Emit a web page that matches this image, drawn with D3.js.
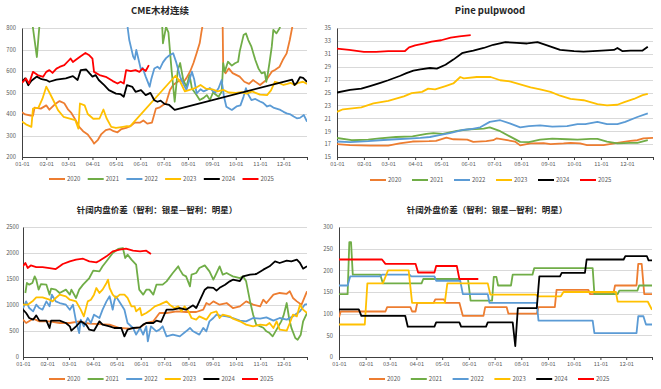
<!DOCTYPE html>
<html><head><meta charset="utf-8">
<script src="https://cdn.jsdelivr.net/npm/d3@7"></script>
<style>body{margin:0;background:#fff}svg{display:block}</style>
</head><body><svg id="c" width="661" height="389"></svg>
<script>
const years = ["2020","2021","2022","2023","2024","2025"];
const colors = ["#ED7D31","#70AD47","#5B9BD5","#FFC000","#000000","#FF0000"];
const monthTicks = ["01-01","02-01","03-01","04-01","05-01","06-01","07-01","08-01","09-01","10-01","11-01","12-01"];

// ---- CME lumber continuous ----
const cme2020 = [["01-01",408],["01-05",398],["01-12",393],["01-15",392],["01-17",430],["01-25",425],["02-01",440],["02-05",420],["02-12",445],["02-18",460],["02-24",450],["03-01",420],["03-05",405],["03-10",375],["03-15",340],["03-20",320],["03-26",305],["04-01",275],["04-03",262],["04-08",280],["04-12",305],["04-18",325],["04-23",330],["04-28",320],["05-03",315],["05-08",330],["05-14",335],["05-20",345],["05-25",360],["06-01",360],["06-05",370],["06-10",355],["06-16",360],["06-21",425],["06-26",431],["07-04",451],["07-09",512],["07-13",535],["07-17",545],["07-22",558],["07-26",548],["07-30",567],["08-04",600],["08-08",637],["08-12",683],["08-16",730],["08-18",777],["08-20",820],["08-25",900],["09-14",900],["09-15",605],["09-18",589],["09-22",612],["09-27",590],["10-06",574],["10-12",550],["10-18",540],["10-23",558],["11-01",535],["11-09",558],["11-16",597],["11-20",605],["11-26",620],["11-30",651],["12-05",682],["12-09",744],["12-13",820],["12-18",900],["12-31",900]];
const cme2021 = [["01-01",900],["01-12",900],["01-15",800],["01-20",665],["01-23",800],["01-26",900],["06-28",900],["06-30",729],["07-04",805],["07-07",780],["07-11",605],["07-15",457],["07-19",605],["07-22",637],["07-26",558],["07-30",527],["08-03",581],["08-06",519],["08-12",488],["08-16",465],["08-21",475],["08-25",488],["08-29",465],["09-02",500],["09-09",480],["09-13",504],["09-15",636],["09-17",597],["09-21",643],["09-26",625],["09-30",636],["10-04",643],["10-06",690],["10-11",767],["10-14",775],["10-17",744],["10-21",713],["10-26",651],["10-30",612],["11-03",589],["11-07",595],["11-09",550],["11-11",589],["11-13",636],["11-16",713],["11-18",791],["11-22",775],["11-26",799],["11-30",850],["12-31",950]];
const cme2022 = [["01-01",1000],["05-14",1000],["05-16",800],["05-18",744],["05-23",667],["05-25",654],["05-27",698],["05-31",636],["06-02",605],["06-04",615],["06-08",574],["06-13",527],["06-15",560],["06-19",612],["06-23",620],["06-26",610],["06-30",640],["07-04",660],["07-08",672],["07-13",683],["07-17",640],["07-22",573],["07-26",540],["07-30",512],["08-03",560],["08-06",597],["08-09",560],["08-12",496],["08-17",515],["08-21",505],["08-25",512],["08-29",521],["09-02",505],["09-05",500],["09-09",520],["09-13",558],["09-16",480],["09-19",434],["09-26",419],["10-02",435],["10-07",440],["10-11",481],["10-14",520],["10-17",490],["10-21",465],["10-26",470],["11-01",458],["11-05",452],["11-10",435],["11-14",440],["11-18",430],["11-22",425],["11-27",419],["12-01",410],["12-05",403],["12-10",398],["12-14",388],["12-18",380],["12-22",382],["12-27",395],["12-31",364]];
const cme2023 = [["01-01",365],["01-06",352],["01-13",340],["01-15",425],["01-22",430],["01-27",470],["02-01",527],["02-05",500],["02-10",464],["02-16",418],["02-23",387],["03-03",379],["03-10",372],["03-14",332],["03-16",449],["03-22",440],["03-26",400],["04-02",378],["04-10",379],["04-15",421],["04-19",380],["04-25",340],["05-01",335],["05-10",340],["05-15",343],["05-19",342],["07-16",578],["07-22",550],["07-28",505],["08-03",512],["08-10",520],["08-17",535],["08-24",518],["09-01",515],["09-08",505],["09-15",512],["09-22",500],["10-01",498],["10-08",502],["10-15",495],["10-22",505],["11-01",490],["11-10",488],["11-15",510],["11-20",550],["11-25",545],["12-01",535],["12-06",540],["12-10",545],["12-15",535],["12-20",545],["12-26",550],["12-31",540]];
const cme2024 = [["01-01",550],["01-05",566],["01-09",534],["01-13",555],["01-20",574],["01-26",562],["02-01",558],["02-05",550],["02-14",560],["02-26",566],["03-07",576],["03-13",558],["03-17",604],["03-24",607],["03-28",590],["04-01",574],["04-05",581],["04-09",558],["04-16",534],["04-22",511],["05-01",495],["05-07",492],["05-11",480],["05-15",534],["05-22",526],["05-26",503],["06-02",511],["06-08",488],["06-14",498],["06-19",464],["06-23",457],["06-27",462],["07-02",447],["07-08",442],["07-15",419],["12-12",560],["12-15",535],["12-18",545],["12-22",571],["12-26",568],["12-31",550]];
const cme2025 = [["01-01",545],["01-06",565],["01-10",542],["01-15",596],["01-21",581],["01-28",573],["02-01",596],["02-05",604],["02-09",591],["02-14",611],["02-18",619],["02-24",627],["03-02",650],["03-04",658],["03-07",642],["03-13",658],["03-17",669],["03-23",684],["03-28",673],["04-01",658],["04-03",596],["04-10",581],["04-18",573],["04-27",553],["05-03",542],["05-07",550],["05-11",542],["05-14",604],["05-20",599],["05-26",604],["05-31",596],["06-04",611],["06-08",600],["06-12",627]];

// ---- Pine pulpwood ----
const pulp2020 = [["01-01",17.0],["01-16",16.85],["02-08",16.75],["03-01",16.75],["03-14",17.1],["03-29",17.4],["04-17",17.45],["04-25",17.5],["05-07",18.0],["05-15",17.75],["05-31",17.7],["06-07",17.35],["06-22",17.45],["06-30",17.6],["07-04",17.9],["07-16",17.6],["07-25",17.4],["07-31",16.8],["08-12",17.1],["08-27",17.15],["09-04",17.0],["09-19",17.1],["09-27",17.2],["10-08",17.1],["10-16",16.85],["11-04",16.85],["11-20",17.2],["12-05",17.5],["12-13",17.6],["12-20",17.9],["12-31",17.95]];
const pulp2021 = [["01-01",17.95],["01-18",17.6],["02-06",17.7],["02-19",17.9],["03-10",18.1],["03-29",18.2],["04-14",18.6],["04-22",18.7],["05-03",18.6],["05-19",19.05],["06-03",19.3],["06-19",19.4],["06-26",19.6],["07-08",19.0],["07-19",18.2],["07-31",17.35],["08-10",17.3],["08-23",17.7],["09-06",17.85],["09-23",17.75],["10-05",17.7],["10-20",17.8],["10-28",17.8],["11-08",17.4],["11-20",17.1],["12-05",17.2],["12-13",17.2],["12-25",17.6]];
const pulp2022 = [["01-01",17.4],["01-16",17.3],["02-06",17.45],["02-19",17.6],["03-10",17.75],["03-25",17.85],["04-07",17.95],["04-18",18.1],["04-29",18.4],["05-11",18.7],["05-26",19.2],["06-03",19.3],["06-15",19.6],["06-26",20.45],["07-08",20.7],["07-19",20.2],["07-31",19.6],["08-10",19.8],["08-23",19.9],["09-06",19.7],["09-23",19.8],["10-05",20.1],["10-14",20.1],["10-28",20.45],["11-08",20.1],["11-20",20.1],["11-29",20.45],["12-13",21.2],["12-25",21.75]];
const pulp2023 = [["01-01",22.0],["01-08",22.4],["01-29",22.7],["02-12",23.3],["03-01",23.7],["03-19",24.4],["03-28",24.9],["04-09",25.1],["04-16",25.6],["04-24",25.5],["05-06",26.0],["05-15",26.4],["05-23",27.4],["05-27",27.2],["06-11",27.4],["06-27",27.4],["07-08",26.9],["07-20",26.7],["08-04",26.1],["08-12",25.8],["08-23",25.5],["09-04",25.1],["09-15",24.5],["09-27",24.0],["10-05",23.9],["10-12",23.8],["10-28",23.2],["11-08",23.0],["11-20",23.1],["11-28",23.5],["12-09",24.0],["12-19",24.6],["12-25",24.8]];
const pulp2024 = [["01-01",25.0],["01-16",25.4],["01-29",25.6],["02-08",26.0],["02-20",26.5],["03-01",26.9],["03-15",27.6],["03-22",28.0],["03-30",28.4],["04-07",28.6],["04-18",28.8],["04-26",28.7],["05-06",29.3],["05-15",30.1],["05-25",31.1],["05-31",31.3],["06-07",31.5],["06-19",31.9],["06-30",32.4],["07-14",32.8],["07-27",32.7],["08-08",32.6],["08-20",32.8],["08-31",32.3],["09-15",31.6],["10-01",31.4],["10-12",31.35],["10-28",31.45],["11-16",31.6],["11-20",31.9],["11-26",31.4],["12-05",31.5],["12-19",31.5],["12-25",32.1]];
const pulp2025 = [["01-01",31.8],["01-15",31.6],["02-01",31.3],["02-15",31.3],["03-01",31.4],["03-20",31.4],["03-25",32.0],["04-01",32.3],["04-12",32.6],["04-20",32.9],["05-01",33.1],["05-12",33.5],["05-22",33.7],["06-04",33.9]];

// ---- Domestic spread ----
const inner2020 = [["01-01",718],["01-05",654],["01-14",737],["01-22",686],["02-04",686],["02-17",654],["03-02",654],["03-14",686],["03-27",641],["04-09",634],["04-22",622],["05-05",558],["05-18",545],["05-31",570],["06-08",654],["06-17",686],["06-25",846],["07-04",846],["07-17",878],["07-29",865],["08-11",865],["08-20",910],["08-24",1038],["08-28",1006],["09-02",1070],["09-10",1006],["09-19",1038],["09-27",942],["10-06",974],["10-14",1070],["10-23",1006],["11-01",974],["11-05",1102],["11-09",1038],["11-18",1199],["11-26",1231],["12-05",1215],["12-09",1263],["12-13",1135],["12-18",1070],["12-24",1006],["12-31",1263]];
const inner2021 = [["01-04",1231],["01-06",1423],["01-09",1391],["01-13",1423],["01-16",1551],["01-18",1487],["01-21",1295],["01-24",1400],["01-31",1391],["02-04",1199],["02-06",1315],["02-12",1295],["02-17",1231],["02-25",1295],["03-02",1199],["03-04",1295],["03-10",1135],["03-14",1295],["03-19",1391],["03-27",1519],["04-01",1660],["04-09",1647],["04-13",1744],["04-18",1840],["04-26",2000],["05-03",2077],["05-09",2096],["05-12",1904],["05-15",1968],["05-20",1872],["05-26",1776],["05-30",1295],["06-04",1199],["06-08",1295],["06-12",1295],["06-17",1199],["06-21",1391],["06-29",1391],["07-04",1455],["07-12",1615],["07-19",1744],["07-21",1680],["07-25",1583],["07-29",1551],["08-03",1359],["08-05",1583],["08-11",1615],["08-15",1711],["08-22",1763],["08-28",1647],["09-02",1487],["09-06",1615],["09-10",1744],["09-14",1583],["09-19",1615],["09-23",1583],["09-27",1551],["10-06",1519],["10-10",1551],["10-14",1455],["10-19",1070],["10-23",813],["10-27",621],["11-01",590],["11-05",563],["11-09",494],["11-13",461],["11-17",396],["11-22",526],["11-28",685],["12-01",800],["12-05",1038],["12-08",750],["12-11",560],["12-16",365],["12-19",333],["12-23",429],["12-26",685],["12-31",846]];
const inner2022 = [["01-01",942],["01-05",1070],["01-09",942],["01-14",878],["01-18",1006],["01-22",942],["01-26",910],["01-31",1070],["02-04",974],["02-07",1199],["02-12",1070],["02-17",1038],["02-25",1006],["03-02",910],["03-06",1006],["03-10",686],["03-14",461],["03-16",718],["03-20",590],["03-25",750],["03-29",654],["04-02",814],["04-09",750],["04-13",910],["04-18",1070],["04-22",1167],["04-26",910],["04-28",1070],["04-30",1167],["05-07",1006],["05-11",910],["05-15",654],["05-22",558],["05-26",430],["05-31",558],["06-04",430],["06-08",590],["06-10",301],["06-14",590],["06-21",494],["06-25",526],["06-29",590],["07-04",397],["07-12",430],["07-21",397],["07-29",494],["08-03",558],["08-07",494],["08-15",430],["08-20",558],["08-24",494],["08-28",686],["09-02",750],["09-06",814],["09-10",801],["09-19",782],["09-27",750],["10-06",699],["10-14",686],["10-23",750],["11-01",737],["11-09",763],["11-18",699],["11-26",750],["12-05",718],["12-13",782],["12-22",878],["12-28",1006],["12-31",1019]];
const inner2023 = [["01-01",1006],["01-07",1006],["01-14",1083],["01-18",1147],["01-26",1147],["02-04",1102],["02-08",1070],["02-12",1135],["02-17",1199],["02-25",1167],["03-02",1102],["03-10",1070],["03-16",910],["03-20",782],["03-25",1070],["03-29",1102],["04-02",1199],["04-05",1327],["04-09",1231],["04-13",1295],["04-18",1423],["04-20",1487],["04-22",1327],["04-26",1199],["04-30",1135],["05-05",1199],["05-11",1199],["05-15",1135],["05-20",974],["05-24",974],["05-26",878],["05-31",942],["06-02",801],["06-08",846],["06-14",910],["06-19",974],["06-25",1006],["07-04",1070],["07-08",1006],["07-14",942],["07-19",974],["07-23",878],["07-27",974],["08-01",878],["08-05",750],["08-11",718],["08-15",782],["08-24",718],["08-30",846],["09-06",878],["09-10",750],["09-14",814],["09-23",782],["09-27",737],["10-06",686],["10-14",622],["10-23",590],["11-01",622],["11-09",609],["11-13",654],["11-18",558],["11-22",686],["11-26",526],["12-05",506],["12-09",654],["12-13",814],["12-18",782],["12-22",1006],["12-26",910],["12-31",846]];
const inner2024 = [["01-01",910],["01-05",846],["01-09",750],["01-14",718],["01-18",800],["01-22",700],["01-31",700],["02-04",558],["02-06",700],["02-17",700],["02-25",654],["03-02",590],["03-04",506],["03-10",590],["03-16",686],["03-23",622],["03-27",525],["04-02",506],["04-09",686],["04-13",622],["04-22",590],["04-28",558],["05-07",558],["05-11",397],["05-15",526],["05-22",558],["05-31",570],["06-04",622],["06-08",654],["06-17",654],["06-21",699],["06-27",675],["07-02",846],["07-04",910],["07-12",910],["07-21",942],["07-29",910],["08-07",994],["08-11",942],["08-15",1070],["08-22",1295],["08-26",1340],["09-02",1330],["09-06",1276],["09-10",1330],["09-17",1391],["09-23",1455],["09-27",1487],["10-06",1460],["10-10",1551],["10-19",1583],["10-27",1596],["11-05",1680],["11-13",1744],["11-20",1840],["11-26",1808],["12-05",1853],["12-11",1840],["12-18",1872],["12-22",1808],["12-26",1699],["12-31",1744]];
const inner2025 = [["01-01",1744],["01-04",1808],["01-07",1712],["01-11",1760],["01-18",1728],["01-26",1728],["02-04",1711],["02-12",1692],["02-17",1744],["02-21",1788],["03-02",1840],["03-10",1872],["03-19",1890],["03-27",1840],["04-05",1820],["04-09",1850],["04-18",1936],["04-26",2032],["05-05",2064],["05-13",2083],["05-22",2045],["05-31",2032],["06-08",2045],["06-14",1980]];

// ---- Overseas spread ----
const outer2020 = [["01-01",92],["01-03",105],["02-24",105],["02-26",115],["03-25",115],["03-27",105],["03-31",105],["04-02",125],["04-21",125],["04-23",133],["05-03",133],["05-05",125],["05-21",125],["05-25",95],["06-18",95],["06-20",115],["07-15",115],["07-17",100],["08-19",100],["08-21",115],["09-09",115],["09-11",155],["10-18",155],["10-20",145],["11-16",145],["11-18",165],["12-13",165],["12-15",215],["12-19",215],["12-22",145],["12-31",145]];
const outer2021 = [["01-01",145],["01-11",145],["01-13",265],["01-15",265],["01-17",190],["02-18",190],["02-21",170],["04-07",170],["04-09",180],["05-31",180],["06-03",130],["06-28",130],["06-30",185],["07-03",185],["07-05",165],["07-20",165],["07-22",190],["08-14",190],["08-16",205],["10-23",205],["10-25",145],["11-21",145],["11-23",153],["12-14",153],["12-16",165],["12-31",165]];
const outer2022 = [["01-01",165],["01-11",165],["01-14",186],["02-18",186],["02-20",190],["03-24",190],["03-26",186],["04-22",186],["04-24",176],["05-22",176],["05-25",145],["06-23",145],["06-25",125],["08-19",125],["08-21",84],["10-23",84],["10-25",55],["12-13",55],["12-15",94],["12-21",94],["12-24",75],["12-31",75]];
const outer2023 = [["01-01",75],["01-31",75],["02-03",170],["02-21",170],["02-27",200],["03-23",200],["03-27",125],["05-04",125],["05-07",170],["06-23",170],["06-26",144],["08-18",144],["08-20",140],["09-16",140],["09-19",150],["11-19",150],["11-21",128],["12-26",128],["12-31",109]];
const outer2024 = [["01-01",110],["01-24",110],["01-27",95],["03-19",95],["03-22",70],["04-22",70],["04-24",80],["05-21",80],["05-23",70],["06-21",70],["06-23",80],["07-22",80],["07-25",25],["07-28",113],["08-19",113],["08-22",186],["09-15",186],["09-17",194],["10-14",194],["10-16",225],["11-28",225],["11-30",233],["12-25",233],["12-27",223],["12-31",223]];
const outer2025 = [["01-01",225],["02-20",225],["02-24",215],["03-31",215],["04-03",195],["04-22",195],["04-24",210],["05-18",210],["05-21",180],["06-12",180]];

const yTicks1 = [200,300,400,500,600,700,800];
const yTicks2 = [15,17,19,21,23,25,27,29,31,33,35];
const yTicks3 = [0,500,1000,1500,2000,2500];
const yTicks4 = [0,50,100,150,200,250,300];

const panels = [
  {title:"CME木材连续", series:[cme2020,cme2021,cme2022,cme2023,cme2024,cme2025], ticks:yTicks1,
   l:22,r:307,t:28,b:157, tx:160, ty:14, fs:9.5, lx:49, ldx:38.7, ly:179, pad:6},
  {title:"Pine pulpwood", series:[pulp2020,pulp2021,pulp2022,pulp2023,pulp2024,pulp2025], ticks:yTicks2,
   l:337,r:653,t:28,b:157, tx:490, ty:14, fs:9.5, lx:370, ldx:42, ly:180, pad:6},
  {title:"针阔内盘价差（智利：银星—智利：明星）", series:[inner2020,inner2021,inner2022,inner2023,inner2024,inner2025], ticks:yTicks3,
   l:23,r:307,t:227,b:357, tx:157, ty:213, fs:8.5, lx:49, ldx:38.6, ly:379, pad:4},
  {title:"针阔外盘价差（智利：银星—智利：明星）", series:[outer2020,outer2021,outer2022,outer2023,outer2024,outer2025], ticks:yTicks4,
   l:339,r:652,t:227,b:357, tx:487, ty:213, fs:8.5, lx:369, ldx:41.8, ly:379, pad:6}
];

const parse = s => new Date(2021, +s.slice(0,2)-1, +s.slice(3,5));
const svg = d3.select("#c");
const FONT = "'Noto Sans CJK SC','Noto Sans',sans-serif";

panels.forEach((p, pi) => {
  const x = d3.scaleTime().domain([parse("01-01"), parse("12-31")]).range([p.l, p.r]);
  const y = d3.scaleLinear().domain([p.ticks[0], p.ticks[p.ticks.length-1]]).range([p.b, p.t]);
  const g = svg.append("g");

  g.append("text").attr("x", p.tx).attr("y", p.ty).attr("text-anchor","middle")
    .attr("font-family", FONT).attr("font-weight","bold").attr("font-size", p.fs).attr("fill","#262626").text(p.title);

  g.selectAll(".grid").data(p.ticks.slice(1)).join("line")
    .attr("x1", p.l).attr("x2", p.r).attr("y1", d => Math.round(y(d))+0.5).attr("y2", d => Math.round(y(d))+0.5)
    .attr("stroke","#d9d9d9").attr("stroke-width",1);

  const ya = g.append("g").attr("transform", `translate(${p.l},0)`)
    .call(d3.axisLeft(y).tickValues(p.ticks).tickFormat(d3.format("d")).tickSize(0).tickPadding(p.pad));
  ya.select(".domain").attr("stroke","#404040");
  ya.selectAll("text").attr("font-family", FONT).attr("font-size", 5.8).attr("fill","#595959");

  const xa = g.append("g").attr("transform", `translate(0,${p.b})`)
    .call(d3.axisBottom(x).tickValues(monthTicks.map(parse).concat([parse("12-31")]))
      .tickFormat(d => d.getMonth()===11 && d.getDate()===31 ? "" : d3.timeFormat("%m-%d")(d))
      .tickSize(3).tickSizeOuter(0).tickPadding(2));
  xa.select(".domain").attr("stroke","#404040");
  xa.selectAll("line").attr("stroke","#404040");
  xa.selectAll("text").attr("font-family", FONT).attr("font-size", 5.6).attr("fill","#595959");

  const cid = "clip" + pi;
  svg.append("clipPath").attr("id", cid).append("rect")
    .attr("x", p.l).attr("y", p.t - 1).attr("width", p.r - p.l).attr("height", p.b - p.t + 1);

  const line = d3.line().x(d => x(parse(d[0]))).y(d => y(d[1]));
  const lg = g.append("g").attr("clip-path", `url(#${cid})`);
  p.series.forEach((s, i) => {
    lg.append("path").datum(s).attr("d", line).attr("fill","none")
      .attr("stroke", colors[i]).attr("stroke-width", 1.8).attr("stroke-linejoin","round");
  });

  const leg = g.append("g");
  years.forEach((yr, i) => {
    const lx = p.lx + i * p.ldx;
    leg.append("line").attr("x1", lx).attr("x2", lx + 16).attr("y1", p.ly).attr("y2", p.ly)
      .attr("stroke", colors[i]).attr("stroke-width", 2);
    leg.append("text").attr("x", lx + 18).attr("y", p.ly + 2.2)
      .attr("font-family", FONT).attr("font-size", 6).attr("fill","#595959").text(yr);
  });
});
</script></body></html>
